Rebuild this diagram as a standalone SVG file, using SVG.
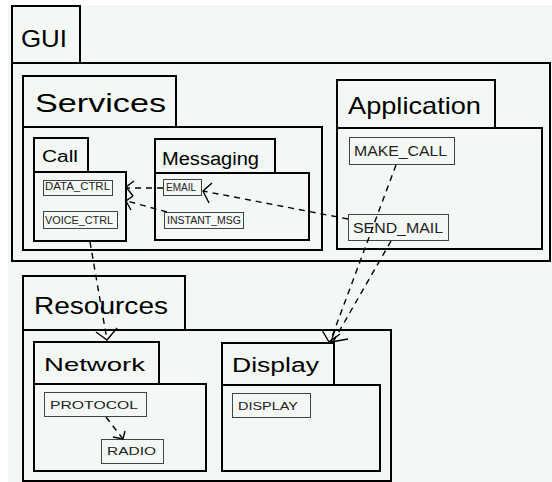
<svg xmlns="http://www.w3.org/2000/svg" width="552" height="482" viewBox="0 0 552 482">
<style>
.pk{fill:none;stroke:#000;stroke-width:2}
.el{fill:none;stroke:#444;stroke-width:1}
.t{font-family:"Liberation Sans",Arial,sans-serif;fill:#000}
.s{font-family:"Liberation Sans",Arial,sans-serif;fill:#222}
.dep{fill:none;stroke:#000;stroke-width:1.4;stroke-dasharray:6 5}
.ah{fill:none;stroke:#000;stroke-width:1.4}
</style>
<rect x="0" y="0" width="552" height="482" fill="#fff"/>
<rect x="8" y="5" width="544" height="477" fill="#f4f8f4"/>

<g id="GUI">
<rect class="pk" x="12" y="6" width="68" height="57"/>
<rect class="pk" x="12" y="63" width="538" height="198"/>
<text class="t" x="21" y="47" font-size="24" textLength="46" lengthAdjust="spacingAndGlyphs">GUI</text>
</g>

<g id="Services">
<rect class="pk" x="23" y="76" width="153" height="51"/>
<rect class="pk" x="23" y="127" width="299" height="123"/>
<text class="t" x="35" y="112" font-size="26" textLength="131" lengthAdjust="spacingAndGlyphs">Services</text>
</g>

<g id="Call">
<rect class="pk" x="34" y="138" width="54" height="34"/>
<rect class="pk" x="34" y="172" width="92" height="69"/>
<text class="t" x="42" y="162" font-size="16" textLength="36" lengthAdjust="spacingAndGlyphs">Call</text>
</g>
<g id="DATA_CTRL">
<rect class="el" x="43.5" y="180.5" width="69" height="15"/>
<text class="s" x="45" y="190" font-size="10" textLength="65" lengthAdjust="spacingAndGlyphs">DATA_CTRL</text>
</g>
<g id="VOICE_CTRL">
<rect class="el" x="43.5" y="211.5" width="74" height="17"/>
<text class="s" x="45" y="224" font-size="10" textLength="68" lengthAdjust="spacingAndGlyphs">VOICE_CTRL</text>
</g>

<g id="Messaging">
<rect class="pk" x="155" y="139" width="120" height="34"/>
<rect class="pk" x="155" y="173" width="154" height="67"/>
<text class="t" x="162" y="165" font-size="18" textLength="97" lengthAdjust="spacingAndGlyphs">Messaging</text>
</g>
<g id="EMAIL">
<rect class="el" x="163.5" y="179.5" width="38" height="16"/>
<text class="s" x="166" y="191" font-size="10" textLength="30" lengthAdjust="spacingAndGlyphs">EMAIL</text>
</g>
<g id="INSTANT_MSG">
<rect class="el" x="164.5" y="212.5" width="79" height="16"/>
<text class="s" x="167" y="224" font-size="10" textLength="74" lengthAdjust="spacingAndGlyphs">INSTANT_MSG</text>
</g>

<g id="Application">
<rect class="pk" x="337" y="80" width="158" height="48"/>
<rect class="pk" x="337" y="128" width="205" height="121"/>
<text class="t" x="348" y="114" font-size="24" textLength="133" lengthAdjust="spacingAndGlyphs">Application</text>
</g>
<g id="MAKE_CALL">
<rect class="el" x="349.5" y="137.5" width="105" height="27"/>
<text class="s" x="354" y="156" font-size="14" textLength="93" lengthAdjust="spacingAndGlyphs">MAKE_CALL</text>
</g>
<g id="SEND_MAIL">
<rect class="el" x="348.5" y="214.5" width="100" height="26"/>
<text class="s" x="353" y="233" font-size="14" textLength="90" lengthAdjust="spacingAndGlyphs">SEND_MAIL</text>
</g>

<g id="Resources">
<rect class="pk" x="23" y="276" width="162" height="54"/>
<rect class="pk" x="23" y="330" width="368" height="151"/>
<text class="t" x="34" y="314" font-size="24" textLength="134" lengthAdjust="spacingAndGlyphs">Resources</text>
</g>

<g id="Network">
<rect class="pk" x="34" y="342" width="125" height="42"/>
<rect class="pk" x="34" y="384" width="172" height="87"/>
<text class="t" x="44" y="371" font-size="19" textLength="101" lengthAdjust="spacingAndGlyphs">Network</text>
</g>
<g id="PROTOCOL">
<rect class="el" x="44.5" y="392.5" width="102" height="24"/>
<text class="s" x="50" y="409" font-size="11.5" textLength="88" lengthAdjust="spacingAndGlyphs">PROTOCOL</text>
</g>
<g id="RADIO">
<rect class="el" x="101.5" y="439.5" width="62" height="24"/>
<text class="s" x="107" y="455" font-size="11.5" textLength="49" lengthAdjust="spacingAndGlyphs">RADIO</text>
</g>

<g id="Display">
<rect class="pk" x="222" y="343" width="112" height="42"/>
<rect class="pk" x="222" y="385" width="158" height="86"/>
<text class="t" x="232" y="372" font-size="20" textLength="87" lengthAdjust="spacingAndGlyphs">Display</text>
</g>
<g id="DISPLAY">
<rect class="el" x="232.5" y="393.5" width="78" height="24"/>
<text class="s" x="238" y="410" font-size="11.5" textLength="60" lengthAdjust="spacingAndGlyphs">DISPLAY</text>
</g>

<g id="connectors">
<line class="dep" x1="163" y1="188" x2="127" y2="188"/>
<polyline class="ah" points="134,181 126,187 133,196"/>
<line class="dep" x1="167" y1="212" x2="127" y2="201"/>
<polyline class="ah" points="133,196 126,201 131,210"/>
<line class="dep" x1="348" y1="219" x2="203" y2="191"/>
<polyline class="ah" points="212,183 203,191 209,203"/>
<line class="dep" x1="90" y1="242" x2="107" y2="340"/>
<polyline class="ah" points="96,332 107,340 117,328"/>
<line class="dep" x1="396" y1="165" x2="330" y2="342"/>
<polyline class="ah" points="322,330 329,342 340,334"/>
<line class="dep" x1="391" y1="241" x2="333" y2="342"/>
<polyline class="ah" points="335,330 331,342 348,339"/>
<line class="dep" x1="106" y1="417" x2="123" y2="439"/>
<polyline class="ah" points="113,437 123,439 125,431"/>
</g>
</svg>
